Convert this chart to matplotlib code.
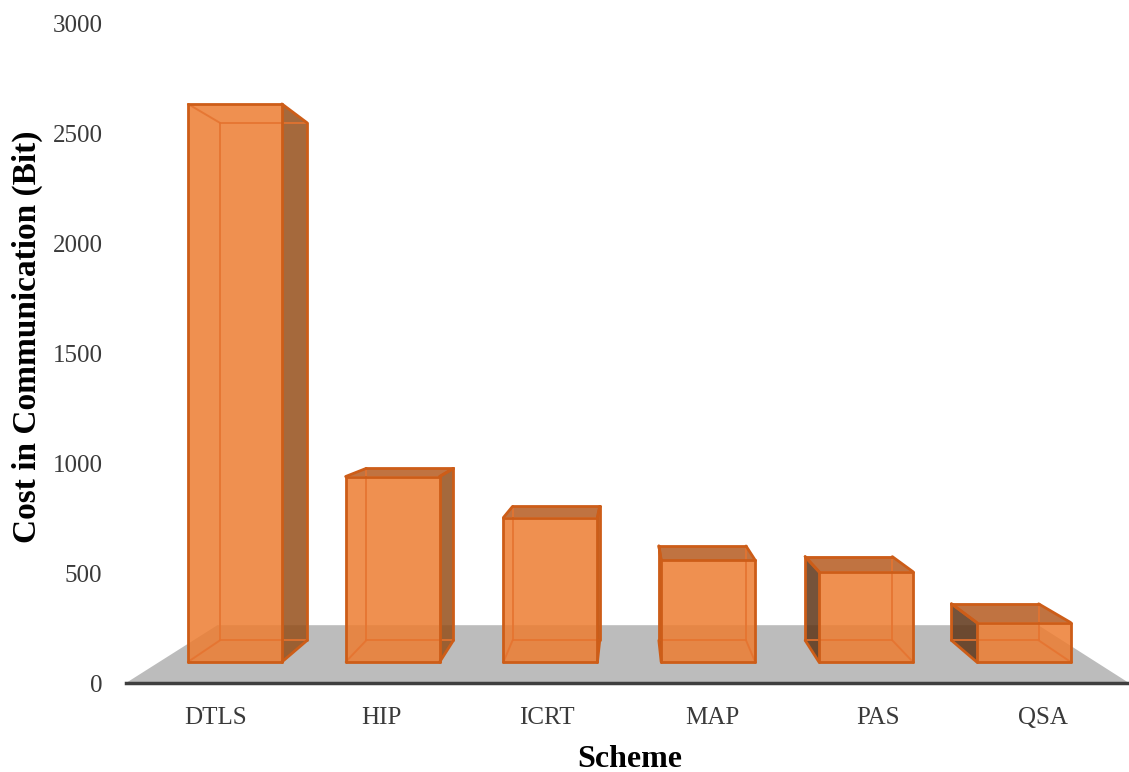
import matplotlib
matplotlib.use("Agg")
import matplotlib.pyplot as plt
from matplotlib.patches import Polygon

plt.rcParams["font.family"] = ["Liberation Serif", "DejaVu Serif"]

schemes = ["DTLS", "HIP", "ICRT", "MAP", "PAS", "QSA"]
cost_bits = [2720, 904, 704, 496, 440, 192]
y_ticks = [0, 500, 1000, 1500, 2000, 2500, 3000]

# simple perspective (Excel-like 3D column look), all in data units
CX, VY = 2.5, 1450          # vanishing point
S_FRONT, S_BACK = 0.934, 0.866
S_FLOOR_BACK = 0.8185
S_LABEL = 0.98
HALF_W = 0.298
XMIN, XMAX = -0.4796, 5.4583

front_col = "#ED7D31"
right_col = "#954F1A"
left_col = "#5E3517"
top_col = "#B55A20"
edge_col = "#CD5D18"
hidden_col = "#E5732F"


def proj(x, v, s):
    return (CX + s * (x - CX), VY + s * (v - VY))


fig = plt.figure(figsize=(11.29, 7.72), dpi=100)
ax = fig.add_axes([126 / 1129, 89 / 772, 1003 / 1129, 659 / 772])
ax.set_xlim(XMIN, XMAX)
ax.set_ylim(0, 3000)

# floor
floor = [proj(XMIN, 0, 1), proj(XMAX, 0, 1), proj(XMAX, 0, S_FLOOR_BACK), proj(XMIN, 0, S_FLOOR_BACK)]
ax.add_patch(Polygon(floor, closed=True, facecolor="#BCBCBC", edgecolor="none", zorder=1))

for i, val in enumerate(cost_bits):
    x0, x1 = i - HALF_W, i + HALF_W
    corners = {"lb": (x0, 0), "rb": (x1, 0), "rt": (x1, val), "lt": (x0, val)}
    F = {k: proj(x, v, S_FRONT) for k, (x, v) in corners.items()}
    B = {k: proj(x, v, S_BACK) for k, (x, v) in corners.items()}

    right_vis = F["rb"][0] < CX
    left_vis = F["lb"][0] > CX
    top_vis = val < VY

    solid = [("lb", "rb"), ("rb", "rt"), ("rt", "lt"), ("lt", "lb")]
    faces = []
    vis_edges = [(F[a], F[b]) for a, b in solid]
    if right_vis:
        faces.append(([F["rb"], B["rb"], B["rt"], F["rt"]], right_col))
        vis_edges += [(B["rb"], B["rt"]), (F["rb"], B["rb"]), (F["rt"], B["rt"])]
    if left_vis:
        faces.append(([F["lb"], B["lb"], B["lt"], F["lt"]], left_col))
        vis_edges += [(B["lb"], B["lt"]), (F["lb"], B["lb"]), (F["lt"], B["lt"])]
    if top_vis:
        faces.append(([F["lt"], F["rt"], B["rt"], B["lt"]], top_col))
        vis_edges += [(B["lt"], B["rt"]), (F["lt"], B["lt"]), (F["rt"], B["rt"])]
    faces.append(([F["lb"], F["rb"], F["rt"], F["lt"]], front_col))

    for pts, col in faces:
        ax.add_patch(Polygon(pts, closed=True, facecolor=col, alpha=0.85,
                             edgecolor="none", zorder=2))

    # all edges of the box; hidden ones lighter (seen through)
    all_edges = [(B[a], B[b]) for a, b in solid] + [(F[k], B[k]) for k in F]
    for p, q in all_edges:
        if (p, q) in vis_edges or (q, p) in vis_edges:
            continue
        ax.plot([p[0], q[0]], [p[1], q[1]], color=hidden_col, lw=1.4, alpha=0.85,
                zorder=3, solid_capstyle="round")
    for p, q in vis_edges:
        ax.plot([p[0], q[0]], [p[1], q[1]], color=edge_col, lw=2.0, zorder=4,
                solid_capstyle="round")

ax.set_xticks([proj(i, 0, S_LABEL)[0] for i in range(len(schemes))])
ax.set_xticklabels(schemes)
ax.set_yticks(y_ticks)
ax.tick_params(axis="both", length=0, labelsize=18, labelcolor="#3A3A3A")
ax.tick_params(axis="y", pad=17)
ax.tick_params(axis="x", pad=17)

for side in ["left", "top", "right"]:
    ax.spines[side].set_visible(False)
ax.spines["bottom"].set_color("#3F3F3F")
ax.spines["bottom"].set_linewidth(2.5)
ax.spines["bottom"].set_zorder(5)

ax.set_ylabel("Cost in Communication (Bit)", fontsize=24, fontweight="bold")
ax.set_xlabel("Scheme", fontsize=23, fontweight="bold")
ax.yaxis.set_label_coords(-0.083, 0.525)
ax.xaxis.set_label_coords(0.5025, -0.094)

fig.savefig("out.png", dpi=100)
